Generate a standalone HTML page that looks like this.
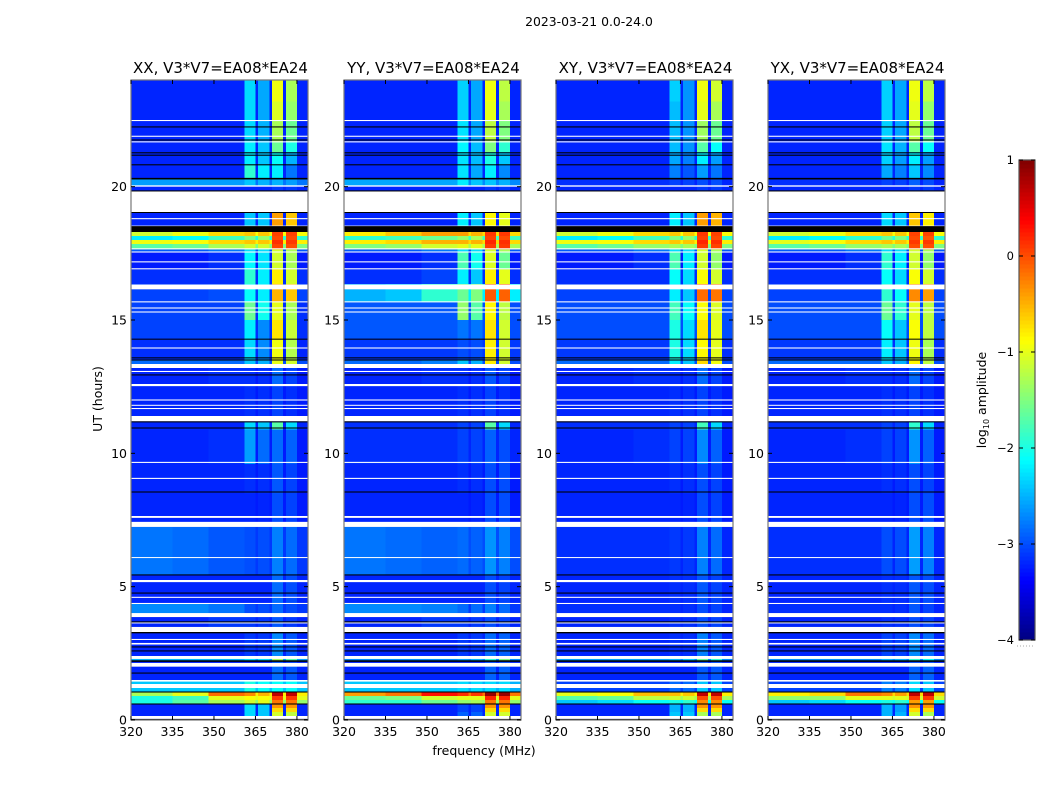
<!DOCTYPE html>
<html>
<head>
<meta charset="utf-8">
<title>2023-03-21 0.0-24.0</title>
<style>
html,body{margin:0;padding:0;background:#fff;}
svg{display:block;font-family:"DejaVu Sans","Liberation Sans",sans-serif;fill:#000;}
</style>
</head>
<body>
<svg id="fig" xmlns="http://www.w3.org/2000/svg" width="1050" height="800" viewBox="0 0 1050 800">
<text x="589" y="26" text-anchor="middle" font-size="12.4">2023-03-21 0.0-24.0</text>
<text x="484" y="755" text-anchor="middle" font-size="12.5">frequency (MHz)</text>
<text transform="translate(102,399) rotate(-90)" text-anchor="middle" font-size="12.5">UT (hours)</text>
<text transform="translate(986,400) rotate(-90)" text-anchor="middle" font-size="12.5">log<tspan font-size="8" dy="3">10</tspan><tspan dy="-3"> amplitude</tspan></text>
</svg>
<script>
// Axis ranges
const freqRange = [320, 384];
const hourRange = [0, 24];
const colorRange = [-4, 1];

// Tick labels
const freqTicks = [320, 335, 350, 365, 380];
const hourTicks = [0, 5, 10, 15, 20];
const colorTicks = [-4, -3, -2, -1, 0, 1];

// Frequency columns in MHz
const freqEdges = [320, 335, 348, 361, 365, 366, 370, 371, 375, 376, 380, 384];
// Which level column each frequency cell reads (7 = the low level seen in the notches and band edge)
const freqColumn = [0, 1, 2, 3, 7, 4, 7, 5, 7, 6, 7];

// Time band edges in UT hours
const bandEdges = [0,.3,.45,.6,.75,.9,1.05,1.45,2,2.2,2.3,3.25,3.86,4.35,5.45,7.24,8.5,9.6,10.9,11.2,12.6,13.2,13.5,14.3,15,15.7,16.35,16.9,17.55,17.65,17.85,18,18.15,18.3,18.52,19.86,20.05,20.3,20.84,21.3,21.7,22.5,23.2,24];

// Flagged time ranges, shared by all panels [start hour, end hour]
const whiteGaps = [[.04,.15],[1.2,1.35],[1.44,1.5],[2,2.14],[2.29,2.4],[2.83,2.89],[3,3.04],[3.3,3.49],[3.62,3.66],[3.86,4.01],[4.35,4.39],[4.58,4.62],[5.17,5.25],[6.08,6.11],[7.24,7.43],[7.58,7.65],[9.04,9.08],[9.64,9.68],[11.2,11.4],[11.66,11.7],[11.79,11.82],[11.98,12.02],[12.52,12.6],[13.05,13.09],[13.2,13.35],[13.93,13.97],[15.28,15.32],[15.43,15.47],[15.66,15.7],[16.15,16.33],[16.9,16.94],[17.16,17.2],[17.53,17.57],[17.65,17.69],[18.5,18.54],[18.78,18.82],[19.03,19.84],[20,20.05],[21.66,21.7],[21.87,21.91],[22.46,22.5]];
const blackGaps = [[0,.04],[.58,.62],[1.03,1.07],[1.74,1.78],[2.18,2.24],[2.57,2.61],[2.72,2.76],[3.25,3.3],[3.66,3.7],[4.74,4.78],[5.42,5.46],[8.53,8.57],[10.93,10.97],[11.16,11.2],[12.92,12.96],[13.48,13.52],[13.56,13.6],[14.27,14.3],[18.3,18.52],[19.02,19.05],[19.82,19.86],[20.27,20.33],[20.8,20.84],[21.16,21.2],[21.25,21.29],[21.73,21.77],[22.22,22.26]];

// log10 amplitude per time band: 320-335, 335-348, 348-361, 361-365, 366-370, 371-375, 376-380, notch/edge
const xxLevels = [
[-3.2,-3.2,-3.2,-2.3,-2.4,-1.1,-1.2,-3.2],[-3.2,-3.2,-3.2,-2.3,-2.4,-.7,-.7,-3.2],[-3.2,-3.2,-3.2,-2.3,-2.4,-.35,-.35,-3.2],
[-2,-1.7,-1.3,-1.1,-1,-.2,-.2,-1.4],[-2,-1.8,-1,-.9,-.9,.1,.1,-1],[-1.3,-1,-.15,-.3,-.5,.7,.7,-.8],
[-2.4,-2.4,-2.4,-2,-2.1,-2.1,-2.1,-2.4],[-3.2,-3.2,-3.2,-3.2,-3.2,-2.85,-2.95,-3.2],[-3.2,-3.2,-3.2,-3.2,-3.2,-2.95,-3.05,-3.2],
[-2.5,-2.5,-2.5,-2.3,-2.3,-1.3,-1.7,-2.6],[-3.2,-3.2,-3.2,-3.1,-3.1,-2.7,-2.95,-3.2],[-3.2,-3.2,-3.1,-3.1,-3.1,-2.95,-3.1,-3.2],
[-2.7,-2.7,-2.8,-3,-3,-2.85,-3,-3.1],[-3.2,-3.2,-3.2,-3.2,-3.2,-2.85,-3,-3.2],[-2.8,-2.85,-2.95,-3,-3,-2.75,-2.85,-3.1],
[-3.2,-3.2,-3.2,-3.2,-3.2,-3,-3.05,-3.25],[-3.2,-3.2,-3.2,-3.15,-3.15,-2.95,-3.05,-3.25],[-3.2,-3.2,-3.15,-2.6,-2.85,-2.85,-2.9,-3.25],
[-3.2,-3.2,-3.2,-2.3,-2.4,-1.7,-2.3,-3.2],[-3.2,-3.2,-3.2,-3.15,-3.15,-3.05,-3.15,-3.25],[-3.2,-3.2,-3.15,-3.15,-3.15,-2.85,-3.05,-3.25],
[-2.85,-2.85,-2.85,-2.4,-2.5,-1,-1.1,-3],[-3.15,-3.15,-3.15,-2.3,-2.7,-.95,-1.25,-3.2],[-3.05,-3.05,-3.05,-2.2,-2.7,-.75,-1.15,-3.15],
[-3.05,-3.05,-3.05,-1.6,-2.05,-1,-1.3,-3.15],[-3.05,-3.05,-3,-2.1,-2.2,-.5,-.6,-3.05],[-3.15,-3.15,-3.15,-1.9,-2.2,-.8,-1.1,-3.15],
[-3.25,-3.25,-3.15,-2.15,-2.25,-1.1,-1.3,-3.25],[-2.95,-2.95,-2.8,-2.3,-2.3,-1.1,-1.3,-2.95],[-1.7,-1.6,-1.3,-1.1,-1.1,.05,0,-1.5],
[-.95,-.9,-.7,-.6,-.6,.15,.1,-.8],[-2.2,-2.1,-1.8,-1.5,-1.4,0,0,-1.9],[-1.1,-.95,-.7,-.6,-.6,.05,.05,-.9],
[-3.2,-3.2,-3.2,-3.2,-3.2,-3.2,-3.2,-3.2],[-3.2,-3.2,-3.2,-2.4,-2.4,-.4,-.6,-3.2],[-3.2,-3.2,-3.2,-3.2,-3.2,-3.1,-3.1,-3.2],
[-2.6,-2.6,-2.6,-2.4,-2.5,-2.5,-2.6,-2.8],[-3.2,-3.2,-3.2,-1.9,-2.2,-2.2,-2.8,-3.2],[-3.2,-3.2,-3.2,-2.2,-2.4,-2.1,-2.5,-3.2],
[-3.2,-3.2,-3.2,-2.2,-2.4,-1.6,-2,-3.2],[-3.2,-3.2,-3.2,-2.3,-2.5,-1.3,-1.6,-3.2],[-3.2,-3.2,-3.2,-2.3,-2.55,-1.05,-1.4,-3.2],
[-3.2,-3.2,-3.2,-2.3,-2.55,-.95,-1.3,-3.2]];

const yyLevels = [
[-3.2,-3.2,-3.2,-2.9,-2.9,-1.1,-1.1,-3.2],[-3.2,-3.2,-3.2,-3.05,-3.05,-.7,-.7,-3.2],[-3.2,-3.2,-3.2,-3.05,-3.05,-.35,-.35,-3.2],
[-1.9,-1.9,-1.6,-1.4,-1.3,-.2,-.2,-1.4],[-1.6,-1.5,-1.1,-1,-1,.2,.2,-1],[-.4,-.2,.3,.15,.1,.9,.9,-.2],
[-2.4,-2.4,-2.4,-2.3,-2.3,-2.3,-2.3,-2.5],[-3.2,-3.2,-3.2,-3.2,-3.2,-2.9,-2.9,-3.2],[-3.2,-3.2,-3.2,-3.2,-3.2,-3,-3,-3.2],
[-2.7,-2.7,-2.7,-2.6,-2.5,-1.9,-1.5,-2.7],[-3.2,-3.2,-3.2,-3.1,-3.1,-2.85,-2.9,-3.2],[-3.2,-3.2,-3.1,-3.1,-3.1,-3,-3.05,-3.2],
[-2.7,-2.7,-2.75,-2.85,-2.85,-2.75,-2.85,-3.1],[-3.2,-3.2,-3.2,-3.2,-3.2,-3,-3.05,-3.2],[-2.8,-2.85,-2.9,-2.85,-2.9,-2.65,-2.75,-3],
[-3.2,-3.2,-3.2,-3.2,-3.2,-3,-3,-3.25],[-3.2,-3.2,-3.2,-3.15,-3.15,-3,-3,-3.25],[-3.15,-3.15,-3.15,-3.05,-3.05,-2.9,-3,-3.2],
[-3.15,-3.15,-3.15,-3.05,-3.05,-1.7,-2.3,-3.2],[-3.2,-3.2,-3.2,-3.15,-3.15,-3.05,-3.15,-3.25],[-3.2,-3.2,-3.15,-3.15,-3.15,-2.95,-3.05,-3.25],
[-2.85,-2.85,-2.75,-2.4,-2.5,-.8,-1.1,-3],[-3.1,-3.1,-3.1,-3,-3,-.8,-1.1,-3.1],[-2.95,-2.95,-2.95,-2.8,-2.8,-.75,-1.1,-3],
[-2.95,-2.95,-2.95,-1.4,-1.7,-.85,-1.2,-3],[-2.5,-2.4,-1.9,-1.6,-1.5,-.05,-.1,-2.2],[-3.15,-3.15,-3.05,-2.2,-2.4,-.8,-1,-3.15],
[-3.25,-3.25,-3.15,-1.75,-2.05,-1.05,-1.6,-3.25],[-2.95,-2.95,-2.8,-2.3,-2.3,-1.1,-1.3,-2.95],[-1.5,-1.4,-1.1,-1,-1,.1,.1,-1.3],
[-.8,-.7,-.5,-.5,-.5,.2,.15,-.7],[-1.9,-1.8,-1.6,-1.4,-1.3,.05,0,-1.8],[-.8,-.6,-.4,-.4,-.5,.1,.1,-.7],
[-3.2,-3.2,-3.2,-3.2,-3.2,-3.2,-3.2,-3.2],[-3.2,-3.2,-3.2,-2.2,-2.4,-.85,-1,-3.2],[-3.2,-3.2,-3.2,-3.2,-3.2,-3.1,-3.1,-3.2],
[-2.55,-2.55,-2.55,-2.2,-2.4,-2.4,-2.5,-2.7],[-3.2,-3.2,-3.2,-2.25,-2.55,-2.2,-2.7,-3.2],[-3.2,-3.2,-3.2,-2.25,-2.45,-2,-2.4,-3.2],
[-3.2,-3.2,-3.2,-2.15,-2.45,-1.5,-1.9,-3.2],[-3.2,-3.2,-3.2,-2.25,-2.55,-1.2,-1.5,-3.2],[-3.2,-3.2,-3.2,-2.35,-2.55,-1,-1.3,-3.2],
[-3.2,-3.2,-3.2,-2.35,-2.55,-.95,-1.2,-3.2]];

const xyLevels = [
[-3.2,-3.2,-3.2,-2.4,-2.4,-1.3,-1.3,-3.2],[-3.2,-3.2,-3.2,-2.5,-2.5,-.7,-.7,-3.2],[-3.2,-3.2,-3.2,-2.5,-2.5,-.35,-.35,-3.2],
[-2.4,-2.3,-2.1,-2,-1.9,-.3,-.3,-2.1],[-1.7,-1.6,-1.2,-1.1,-1.1,0,0,-1.3],[-1,-.9,-.55,-.55,-.6,.7,.7,-.8],
[-3.05,-3.05,-3.05,-2.85,-2.85,-2.4,-2.4,-3.05],[-3.2,-3.2,-3.2,-3.2,-3.2,-2.95,-2.95,-3.2],[-3.2,-3.2,-3.2,-3.2,-3.2,-3,-3,-3.2],
[-2.6,-2.6,-2.6,-2.5,-2.4,-1.6,-1.9,-2.7],[-3.2,-3.2,-3.2,-3.15,-3.15,-2.75,-2.95,-3.2],[-3.2,-3.2,-3.2,-3.15,-3.15,-3,-3.05,-3.2],
[-3.15,-3.15,-3.15,-3.15,-3.15,-3,-3.05,-3.2],[-3.2,-3.2,-3.2,-3.15,-3.15,-2.95,-3.05,-3.2],[-3.15,-3.15,-3.15,-3.1,-3.1,-2.75,-2.85,-3.2],
[-3.2,-3.2,-3.2,-3.2,-3.2,-3,-3.05,-3.25],[-3.2,-3.2,-3.2,-3.15,-3.15,-3,-3.05,-3.25],[-3.2,-3.2,-3.15,-3.05,-3.05,-2.7,-2.9,-3.25],
[-3.15,-3.15,-3.15,-3.05,-3.05,-1.8,-2.3,-3.2],[-3.2,-3.2,-3.2,-3.15,-3.15,-3.05,-3.15,-3.25],[-3.2,-3.2,-3.15,-3.15,-3.15,-2.85,-3.05,-3.25],
[-2.85,-2.85,-2.85,-2.2,-2.4,-.7,-.95,-3],[-3.1,-3.1,-3.1,-2,-2.3,-.85,-1,-3.15],[-3,-3,-3,-2,-2.3,-.75,-1,-3],
[-3,-3,-3,-1.8,-2.1,-.9,-1.05,-3],[-3.05,-3.05,-3.05,-2.2,-2.4,-.15,-.2,-3.05],[-3.15,-3.15,-3.15,-2.1,-2.3,-.9,-1.1,-3.15],
[-3.25,-3.25,-3.15,-1.75,-2.2,-1.1,-1.4,-3.25],[-2.95,-2.95,-2.8,-2.3,-2.3,-1.1,-1.3,-2.95],[-1.7,-1.6,-1.4,-1.3,-1.3,.1,.05,-1.5],
[-.95,-.9,-.7,-.6,-.6,.2,.15,-.8],[-2.2,-2.1,-1.8,-1.5,-1.4,.05,0,-1.9],[-1.1,-.95,-.7,-.6,-.6,.1,.05,-.9],
[-3.2,-3.2,-3.2,-3.2,-3.2,-3.2,-3.2,-3.2],[-3.2,-3.2,-3.2,-2.2,-2.4,-.4,-.5,-3.2],[-3.2,-3.2,-3.2,-3.2,-3.2,-3.1,-3.1,-3.2],
[-3.15,-3.15,-3.15,-3.05,-3.05,-3,-3,-3.2],[-3.2,-3.2,-3.2,-2.75,-2.95,-2.6,-2.8,-3.2],[-3.2,-3.2,-3.2,-2.55,-2.75,-2.2,-2.6,-3.2],
[-3.2,-3.2,-3.2,-2.45,-2.65,-1.7,-2.1,-3.2],[-3.2,-3.2,-3.2,-2.45,-2.65,-1.35,-1.6,-3.2],[-3.2,-3.2,-3.2,-2.45,-2.65,-1,-1.3,-3.2],
[-3.2,-3.2,-3.2,-2.35,-2.65,-.95,-1.1,-3.2]];

const yxLevels = [
[-3.2,-3.2,-3.2,-2.5,-2.5,-1.1,-1.3,-3.2],[-3.2,-3.2,-3.2,-2.5,-2.6,-.7,-.7,-3.2],[-3.2,-3.2,-3.2,-2.5,-2.6,-.35,-.35,-3.2],
[-2.4,-2.3,-2.1,-2,-1.9,-.4,-.4,-2.1],[-1.4,-1.4,-1,-1,-1,.1,.1,-1.1],[-.8,-.7,-.2,-.3,-.4,.7,.7,-.7],
[-3.05,-3.05,-3.05,-2.75,-2.75,-2.3,-2.4,-3.05],[-3.2,-3.2,-3.2,-3.2,-3.2,-2.9,-2.9,-3.2],[-3.2,-3.2,-3.2,-3.2,-3.2,-3,-3,-3.2],
[-2.7,-2.7,-2.7,-2.5,-2.5,-1.9,-2.1,-2.7],[-3.2,-3.2,-3.2,-3.05,-3.05,-2.7,-2.85,-3.2],[-3.2,-3.2,-3.2,-3.15,-3.15,-3,-3.05,-3.2],
[-3.15,-3.15,-3.15,-3.15,-3.15,-2.95,-3.05,-3.2],[-3.2,-3.2,-3.2,-3.15,-3.15,-2.95,-3,-3.2],[-3.15,-3.15,-3.15,-3,-3,-2.6,-2.75,-3.2],
[-3.2,-3.2,-3.2,-3.2,-3.2,-3,-3,-3.25],[-3.2,-3.2,-3.2,-3.15,-3.15,-3,-3.05,-3.25],[-3.2,-3.2,-3.15,-3.05,-3.05,-2.65,-2.9,-3.25],
[-3.15,-3.15,-3.15,-3.05,-3.05,-1.9,-2.3,-3.2],[-3.2,-3.2,-3.2,-3.15,-3.15,-3.05,-3.15,-3.25],[-3.2,-3.2,-3.15,-3.15,-3.15,-2.85,-3.05,-3.25],
[-2.85,-2.85,-2.85,-2.4,-2.5,-.85,-1.2,-3],[-3.1,-3.1,-3.1,-2.2,-2.4,-.95,-1.3,-3.15],[-3,-3,-3,-2.1,-2.4,-.9,-1.2,-3],
[-3,-3,-3,-1.6,-1.9,-1,-1.2,-3],[-3.05,-3.05,-3.05,-1.9,-2.1,-.3,-.4,-3.05],[-3.15,-3.15,-3.15,-2.1,-2.3,-.9,-1.1,-3.15],
[-3.25,-3.25,-3.15,-1.9,-2.2,-1.1,-1.4,-3.25],[-2.95,-2.95,-2.8,-2.3,-2.3,-1.1,-1.3,-2.95],[-1.7,-1.6,-1.4,-1.3,-1.3,0,0,-1.5],
[-1,-.9,-.7,-.6,-.6,.1,.1,-.8],[-2.2,-2.1,-1.9,-1.6,-1.5,0,-.05,-1.9],[-1.1,-.95,-.7,-.6,-.6,.05,.05,-.9],
[-3.2,-3.2,-3.2,-3.2,-3.2,-3.2,-3.2,-3.2],[-3.2,-3.2,-3.2,-2.3,-2.4,-.6,-.8,-3.2],[-3.2,-3.2,-3.2,-3.2,-3.2,-3.1,-3.1,-3.2],
[-3.15,-3.15,-3.15,-3.05,-3.05,-2.9,-3,-3.2],[-3.2,-3.2,-3.2,-2.55,-2.75,-2.4,-2.7,-3.2],[-3.2,-3.2,-3.2,-2.35,-2.6,-2.2,-2.6,-3.2],
[-3.2,-3.2,-3.2,-2.25,-2.5,-1.7,-2.1,-3.2],[-3.2,-3.2,-3.2,-2.35,-2.55,-1.2,-1.6,-3.2],[-3.2,-3.2,-3.2,-2.35,-2.55,-1,-1.4,-3.2],
[-3.2,-3.2,-3.2,-2.35,-2.55,-.95,-1.2,-3.2]];

const panelTitles = ["XX, V3*V7=EA08*EA24", "YY, V3*V7=EA08*EA24", "XY, V3*V7=EA08*EA24", "YX, V3*V7=EA08*EA24"];
const panelNames = ["xx", "yy", "xy", "yx"];
const panelLevels = [xxLevels, yyLevels, xyLevels, yxLevels];

// Layout
const NS = "http://www.w3.org/2000/svg";
const fig = document.getElementById("fig");
const panelLefts = [131, 344, 556, 768];
const plot = { top: 80, bottom: 720, width: 177 };
const bar = { left: 1019, right: 1035, top: 160, bottom: 640 };

function xScale(f, left) { return left + (f - freqRange[0]) / (freqRange[1] - freqRange[0]) * plot.width; }
function yScale(h) { return plot.bottom - (h - hourRange[0]) / (hourRange[1] - hourRange[0]) * (plot.bottom - plot.top); }
function barScale(v) { return bar.bottom - (v - colorRange[0]) / (colorRange[1] - colorRange[0]) * (bar.bottom - bar.top); }

function jet(v) {
  const n = Math.max(0, Math.min(1, (v - colorRange[0]) / (colorRange[1] - colorRange[0])));
  const ch = x => Math.round(255 * Math.max(0, Math.min(1, 1.5 - Math.abs(4 * n - x))));
  return "rgb(" + ch(3) + "," + ch(2) + "," + ch(1) + ")";
}

function shape(tag, attrs, parent) {
  const el = document.createElementNS(NS, tag);
  for (const k in attrs) el.setAttribute(k, attrs[k]);
  parent.appendChild(el);
  return el;
}

panelLevels.forEach((levels, p) => {
  const left = panelLefts[p];
  const g = shape("g", {}, fig);
  
  

  const title = shape("text", { x: left + plot.width / 2 + 1, y: 73, "text-anchor": "middle", "font-size": "15" }, g);
  
  
  title.textContent = panelTitles[p];

  levels.forEach((row, b) => {
    const y0 = yScale(bandEdges[b + 1]);
    const y1 = yScale(bandEdges[b]);
    freqColumn.forEach((col, c) => {
      const x0 = xScale(freqEdges[c], left);
      const x1 = xScale(freqEdges[c + 1], left);
      const cell = shape("rect", { x: x0, y: y0, width: x1 - x0, height: y1 - y0, fill: jet(row[col]), "shape-rendering": "crispEdges" }, g);
      
      
    });
  });

  whiteGaps.forEach(gap => {
    const h = yScale(gap[0]) - yScale(gap[1]);
    const r = shape("rect", { x: left, y: yScale(gap[1]), width: plot.width, height: Math.max(h, 1), fill: "#fff" }, g);
    
    
  });
  blackGaps.forEach(gap => {
    const h = yScale(gap[0]) - yScale(gap[1]);
    const r = shape("rect", { x: left, y: yScale(gap[1]), width: plot.width, height: Math.max(h, 1), fill: "#000" }, g);
    
    
  });

  const frame = shape("rect", { x: left, y: plot.top, width: plot.width, height: plot.bottom - plot.top, fill: "none", stroke: "#777", "stroke-width": "1.2" }, g);
  
  

  freqTicks.forEach(t => {
    const x = xScale(t, left);
    const tb = shape("line", { x1: x, x2: x, y1: plot.bottom, y2: plot.bottom - 4, stroke: "#000", "stroke-width": "1" }, g);
    
    
    const tt = shape("line", { x1: x, x2: x, y1: plot.top, y2: plot.top + 4, stroke: "#000", "stroke-width": "1" }, g);
    
    
    const lab = shape("text", { x: x, y: 736, "text-anchor": "middle", "font-size": "12.5" }, g);
    
    
    lab.textContent = t;
  });

  hourTicks.forEach(t => {
    const y = yScale(t);
    const tl = shape("line", { x1: left, x2: left + 4, y1: y, y2: y, stroke: "#000", "stroke-width": "1" }, g);
    
    
    const tr = shape("line", { x1: left + plot.width, x2: left + plot.width - 4, y1: y, y2: y, stroke: "#000", "stroke-width": "1" }, g);
    
    
    const lab = shape("text", { x: left - 4, y: y + 4.5, "text-anchor": "end", "font-size": "12.5" }, g);
    
    
    lab.textContent = t;
  });
});

// Colorbar
const barGroup = shape("g", {}, fig);


const barSteps = 120;
for (let i = 0; i < barSteps; i++) {
  const v0 = colorRange[0] + (colorRange[1] - colorRange[0]) * i / barSteps;
  const v1 = colorRange[0] + (colorRange[1] - colorRange[0]) * (i + 1) / barSteps;
  const s = shape("rect", { x: bar.left, y: barScale(v1), width: bar.right - bar.left, height: barScale(v0) - barScale(v1) + .5, fill: jet((v0 + v1) / 2), "shape-rendering": "crispEdges" }, barGroup);
  
  
}
const barFrame = shape("rect", { x: bar.left, y: bar.top, width: bar.right - bar.left, height: bar.bottom - bar.top, fill: "none", stroke: "#555", "stroke-width": "1.2" }, barGroup);


colorTicks.forEach(t => {
  const y = barScale(t);
  const a = shape("line", { x1: bar.left, x2: bar.left + 4, y1: y, y2: y, stroke: "#000", "stroke-width": "1" }, barGroup);
  
  
  const b = shape("line", { x1: bar.right, x2: bar.right - 4, y1: y, y2: y, stroke: "#000", "stroke-width": "1" }, barGroup);
  
  
  const lab = shape("text", { x: 1014, y: y + 4, "text-anchor": "end", "font-size": "11.5" }, barGroup);
  
  
  lab.textContent = String(t).replace("-", "\u2212");
});
const barDots = shape("line", { x1: 1017, x2: 1035, y1: 646, y2: 646, stroke: "#aaa", "stroke-width": "1", "stroke-dasharray": "1 2" }, barGroup);


</script>
</body>
</html>
